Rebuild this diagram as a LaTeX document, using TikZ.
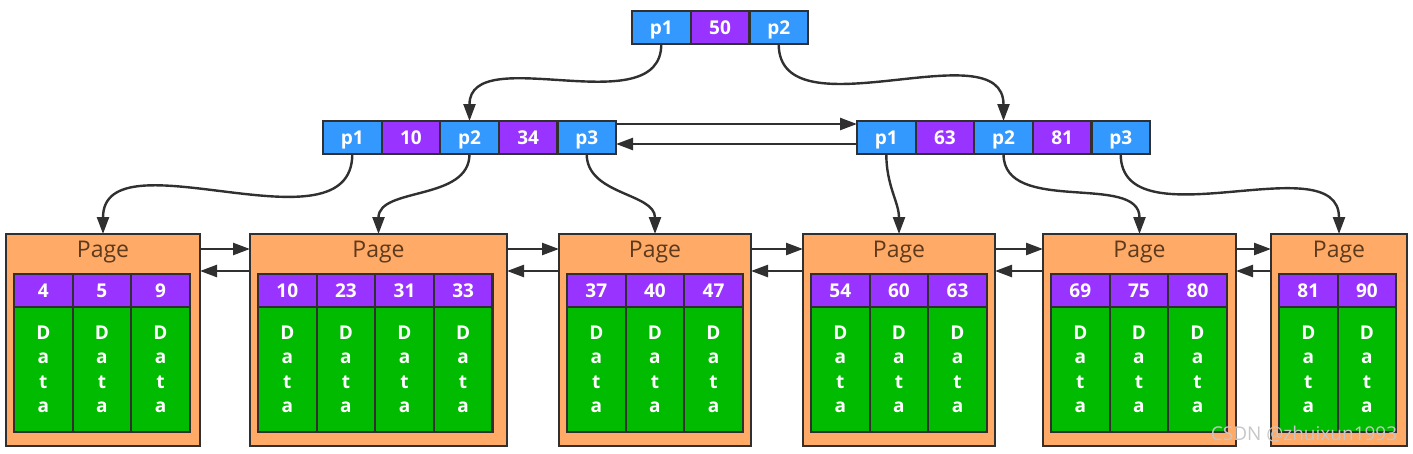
\documentclass[tikz,border=0pt]{standalone}
\usepackage{fontspec}
\setmainfont{Open Sans}
\usetikzlibrary{arrows.meta,positioning}

\definecolor{ptrblue}{RGB}{51,153,255}
\definecolor{keypurple}{RGB}{153,51,255}
\definecolor{pageorange}{RGB}{255,170,102}
\definecolor{datagreen}{RGB}{0,187,0}
\definecolor{edgegray}{RGB}{48,48,48}
\definecolor{pagebrown}{RGB}{92,58,30}

\begin{document}
\begin{tikzpicture}[x=1pt,y=-1pt,
        cell/.style={draw=edgegray,line width=2.2pt,minimum width=58.6pt,minimum height=33pt,
            inner sep=0pt,outer sep=0pt,text=white,font=\fontsize{19}{19}\selectfont\bfseries},
        ptrcell/.style={cell,fill=ptrblue,text depth=0pt},
        keycell/.style={cell,fill=keypurple},
        datacell/.style={cell,fill=datagreen,minimum height=125pt,align=center,
            font=\fontsize{19}{24.5}\selectfont\bfseries},
        pagebox/.style={draw=edgegray,line width=2.2pt,fill=pageorange,minimum height=212pt,
            inner sep=0pt,outer sep=0pt},
        pagetitle/.style={text=pagebrown,inner sep=0pt,font=\fontsize{23}{23}\selectfont},
        ptr/.style={draw=edgegray,line width=2.4pt,-{Triangle[length=17pt,width=12pt]}},
        watermark/.style={text=black!22,inner sep=0pt,font=\fontsize{19}{19}\selectfont}]
        \useasboundingbox (0,0) rectangle (1413,453);

        % Root node
        \foreach \s/\t [count=\i] in {ptrcell/p1,keycell/50,ptrcell/p2}
            \node[\s,anchor=north west] (root-\i) at ({632+(\i-1)*58.7},11) {\t};

        % Inner nodes
        \foreach \s/\t [count=\i] in {ptrcell/p1,keycell/10,ptrcell/p2,keycell/34,ptrcell/p3}
            \node[\s,anchor=north west] (l-\i) at ({323+(\i-1)*58.6},121) {\t};
        \foreach \s/\t [count=\i] in {ptrcell/p1,keycell/63,ptrcell/p2,keycell/81,ptrcell/p3}
            \node[\s,anchor=north west] (r-\i) at ({857+(\i-1)*58.6},121) {\t};

        % Leaf pages
        \foreach \n/\px/\pw/\keys in {1/6/194/{4,5,9},2/250/257/{10,23,31,33},3/559/192/{37,40,47},
                4/803/192/{54,60,63},5/1043/193/{69,75,80},6/1271/136/{81,90}} {
            \node[pagebox,minimum width=\pw pt,anchor=north west] (pg\n) at (\px,234) {};
            \node[pagetitle] (pg\n-title) at ([yshift=-18pt]pg\n.north) {Page};
            \foreach \k [count=\j] in \keys {
                \node[keycell,anchor=north west] (k\n-\j) at ({\px+8+(\j-1)*58.6},274) {\k};
                \node[datacell,anchor=north] (d\n-\j) at (k\n-\j.south) {D\\a\\t\\a};
            }
        }

        % Child pointers
        \draw[ptr] (root-1.south) to[out=-90,in=90] (l-3.north);
        \draw[ptr] (root-3.south) to[out=-90,in=90] (r-3.north);
        \draw[ptr] (l-1.south) to[out=-90,in=90] (pg1.north);
        \draw[ptr] (l-3.south) to[out=-90,in=90] (pg2.north);
        \draw[ptr] (l-5.south) to[out=-90,in=90] (pg3.north);
        \draw[ptr] (r-1.south) to[out=-90,in=90] (pg4.north);
        \draw[ptr] (r-3.south) to[out=-90,in=90] (pg5.north);
        \draw[ptr] (r-5.south) to[out=-90,in=90] (pg6.north);

        % Sibling links
        \draw[ptr] ([yshift=-3pt]l-5.north east) -- ([yshift=-3pt]r-1.north west);
        \draw[ptr] ([yshift=-23pt]r-1.north west) -- ([yshift=-23pt]l-5.north east);
        \foreach \a/\b in {1/2,2/3,3/4,4/5,5/6} {
            \draw[ptr] ([yshift=-15pt]pg\a.north east) -- ([yshift=-15pt]pg\b.north west);
            \draw[ptr] ([yshift=-37pt]pg\b.north west) -- ([yshift=-37pt]pg\a.north east);
        }

        \node[watermark] (wm) at (1304,434) {CSDN @zhuixun1993};
    \end{tikzpicture}
\end{document}
